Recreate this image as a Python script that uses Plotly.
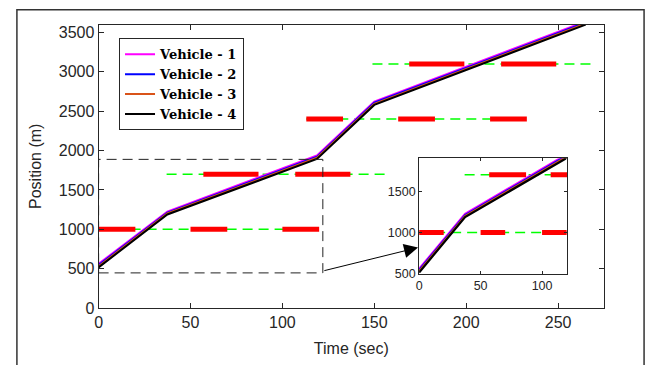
import plotly.graph_objects as go

# ---- data ----
times = [0, 37.4, 118.8, 150, 265]
vehicle_names = ["Vehicle - 1", "Vehicle - 2", "Vehicle - 3", "Vehicle - 4"]
vehicle_colors = ["#ff00ff", "#0000ff", "#d95319", "#000000"]
veh1 = [560, 1225, 1937, 2622, 3642]
veh2 = [545, 1212, 1922, 2608, 3628]
veh3 = [530, 1200, 1908, 2594, 3614]
veh4 = [515, 1188, 1893, 2580, 3600]
vehicles = [veh1, veh2, veh3, veh4]

light_pos = [1000, 1700, 2400, 3100]
green_span = [[0, 120], [37, 157], [113, 233], [149, 269]]
red_phases = [
    [[0, 20], [50, 70], [100, 120]],
    [[57, 87], [107, 137]],
    [[113, 133], [163, 183], [213, 233]],
    [[169, 199], [219, 249]],
]

x_ticks = [0, 50, 100, 150, 200, 250]
y_ticks = [0, 500, 1000, 1500, 2000, 2500, 3000, 3500]
inset_x_ticks = [0, 50, 100]
inset_y_ticks = [500, 1000, 1500]

zoom_box = dict(x0=0, x1=122, y0=445, y1=1888)
arrow_tail = (122, 469)
arrow_tip = (173.8, 767)

AX = "#262626"
fig = go.Figure()


def add_lights(xa, ya):
    for pos, span, reds in zip(light_pos, green_span, red_phases):
        fig.add_trace(go.Scatter(x=span, y=[pos, pos], mode="lines",
                                 line=dict(color="#00ff00", width=1.5, dash="10px,6px"),
                                 showlegend=False, hoverinfo="skip", xaxis=xa, yaxis=ya))
        xs, ys = [], []
        for a, b in reds:
            xs += [a, b, None]
            ys += [pos, pos, None]
        fig.add_trace(go.Scatter(x=xs, y=ys, mode="lines",
                                 line=dict(color="#ff0000", width=5),
                                 showlegend=False, hoverinfo="skip", xaxis=xa, yaxis=ya))


def add_vehicles(xa, ya, legend, width):
    for name, col, vals in zip(vehicle_names, vehicle_colors, vehicles):
        fig.add_trace(go.Scatter(x=times, y=vals, mode="lines", name=name,
                                 line=dict(color=col, width=width),
                                 showlegend=legend, xaxis=xa, yaxis=ya))


add_lights("x", "y")
add_vehicles("x", "y", True, 2)
add_lights("x2", "y2")
add_vehicles("x2", "y2", False, 2.2)

tickfont = dict(family="Liberation Sans", size=16, color=AX)
fig.update_layout(
    width=656, height=365, autosize=False,
    margin=dict(l=0, r=0, t=0, b=0),
    paper_bgcolor="white", plot_bgcolor="white",
    xaxis=dict(domain=[0.1451, 0.9203], range=[0, 275], tickvals=x_ticks,
               ticks="inside", ticklen=5, tickcolor=AX, showline=True, linecolor=AX,
               mirror="ticks", showgrid=False, zeroline=False, tickfont=tickfont,
               title=dict(text="Time (sec)", font=tickfont, standoff=12)),
    yaxis=dict(domain=[0.1351, 0.9307], range=[0, 3600], tickvals=y_ticks,
               ticks="inside", ticklen=5, tickcolor=AX, showline=True, linecolor=AX,
               mirror="ticks", showgrid=False, zeroline=False, tickfont=tickfont,
               title=dict(text="Position (m)", font=tickfont, standoff=13)),
    xaxis2=dict(domain=[0.6367, 0.8639], range=[0, 120.5], tickvals=inset_x_ticks,
                anchor="y2", ticks="inside", ticklen=3, tickcolor=AX, showline=True,
                linecolor=AX, mirror="ticks", showgrid=False, zeroline=False,
                tickfont=dict(family="Liberation Sans", size=12.5, color=AX)),
    yaxis2=dict(domain=[0.2310, 0.5553], range=[500, 1900], tickvals=inset_y_ticks,
                anchor="x2", ticks="inside", ticklen=3, tickcolor=AX, showline=True,
                linecolor=AX, mirror="ticks", showgrid=False, zeroline=False,
                tickfont=dict(family="Liberation Sans", size=12.5, color=AX)),
    legend=dict(x=0.1764, y=0.8923, xanchor="left", yanchor="top",
                bgcolor="white", bordercolor=AX, borderwidth=1,
                font=dict(family="DejaVu Serif", size=13, color="black", weight="bold"),
                tracegroupgap=0),
    showlegend=True,
)

# zoom rectangle
fig.add_shape(type="rect", xref="x", yref="y", line=dict(color="#222222", width=1, dash="10px,6px"),
              **zoom_box)
# arrow to inset
fig.add_annotation(x=arrow_tip[0], y=arrow_tip[1], ax=arrow_tail[0], ay=arrow_tail[1],
                   xref="x", yref="y", axref="x", ayref="y", showarrow=True,
                   arrowhead=2, arrowsize=2.8, arrowwidth=1, arrowcolor="black", text="")
# outer figure frame
fig.add_shape(type="path", xref="paper", yref="paper",
              path="M 0.0198,-0.05 L 0.0198,0.9726 L 0.9817,0.9726 L 0.9817,-0.05",
              line=dict(color="#333333", width=1.5))

fig.write_html("out.html")
